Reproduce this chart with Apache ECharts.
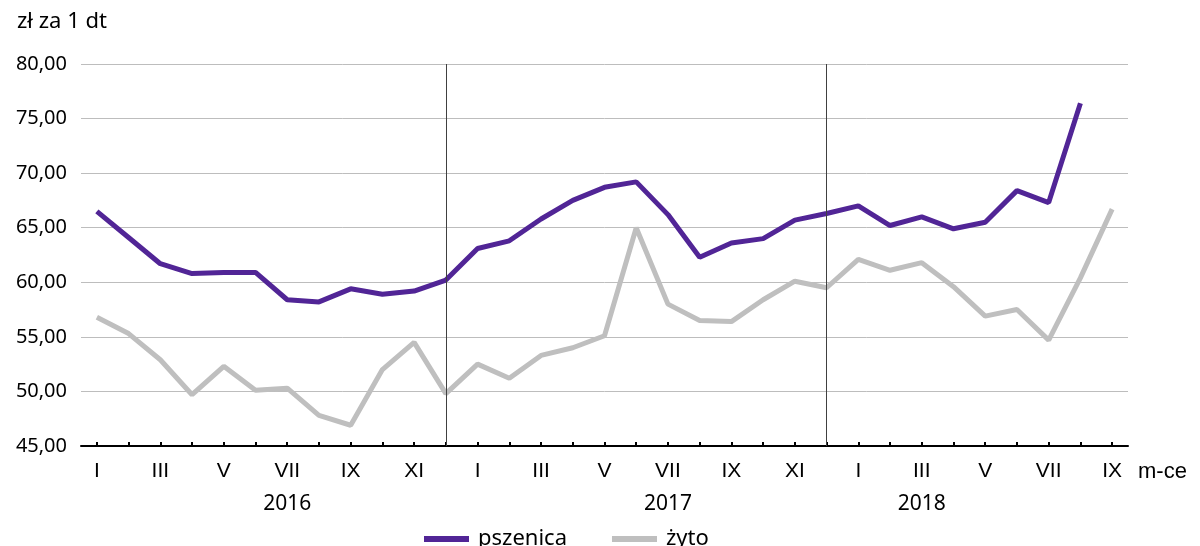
<!DOCTYPE html>
<html>
<head>
<meta charset="utf-8">
<script src="https://cdn.jsdelivr.net/npm/echarts@6/dist/echarts.min.js"></script>
<style>
html,body{margin:0;padding:0;background:#fff;}
#chart{width:1200px;height:546px;}
</style>
</head>
<body>
<div id="chart"></div>
<script>
// Data
const months = [
  'I','II','III','IV','V','VI','VII','VIII','IX','X','XI','XII',
  'I','II','III','IV','V','VI','VII','VIII','IX','X','XI','XII',
  'I','II','III','IV','V','VI','VII','VIII','IX'
];
const yearLabels = [
  '','','','','','','2016','','','','','',
  '','','','','','','2017','','','','','',
  '','','2018','','','','','',''
];
const pszenica = [
  66.5, 64.1, 61.7, 60.8, 60.9, 60.9, 58.4, 58.2, 59.4, 58.9, 59.2, 60.2,
  63.1, 63.8, 65.8, 67.5, 68.7, 69.2, 66.2, 62.3, 63.6, 64.0, 65.7, 66.3,
  67.0, 65.2, 66.0, 64.9, 65.5, 68.4, 67.3, 76.4, null
];
const zyto = [
  56.8, 55.3, 52.9, 49.7, 52.3, 50.1, 50.3, 47.8, 46.9, 52.0, 54.5, 49.8,
  52.5, 51.2, 53.3, 54.0, 55.1, 65.0, 58.0, 56.5, 56.4, 58.4, 60.1, 59.5,
  62.1, 61.1, 61.8, 59.6, 56.9, 57.5, 54.7, 60.4, 66.7
];
const yearSeparators = [11, 23];

const chart = echarts.init(document.getElementById('chart'), null, {renderer: 'canvas'});
const option = {
  animation: false,
  backgroundColor: '#ffffff',
  title: {
    text: 'zł za 1 dt',
    left: 12,
    top: 6,
    textStyle: {fontFamily: 'Noto Sans', fontSize: 22, fontWeight: 'normal', color: '#000'}
  },
  legend: {
    left: 419,
    top: 523,
    icon: 'rect',
    itemWidth: 45,
    itemHeight: 6,
    itemGap: 45,
    textStyle: {fontFamily: 'Noto Sans', fontSize: 22, color: '#000', padding: [0, 0, 0, 4]},
    data: ['pszenica', 'żyto']
  },
  grid: {left: 81, right: 72, top: 64, bottom: 100, containLabel: false},
  xAxis: [
    {
      type: 'category',
      data: months,
      boundaryGap: true,
      position: 'bottom',
      name: 'm-ce',
      nameLocation: 'end',
      nameGap: 10,
      nameTextStyle: {fontFamily: 'Liberation Sans', fontSize: 22, color: '#000', verticalAlign: 'top', padding: [15, 0, 0, 0]},
      axisLine: {show: true, lineStyle: {color: '#000', width: 2}},
      axisTick: {show: true, inside: true, length: 4, interval: 0, alignWithLabel: true, lineStyle: {color: '#000', width: 2}},
      axisLabel: {interval: 1, margin: 15, fontFamily: 'Liberation Sans', fontSize: 21, color: '#000'},
      splitLine: {show: false}
    },
    {
      type: 'category',
      data: yearLabels,
      boundaryGap: true,
      position: 'bottom',
      axisLine: {show: false},
      axisTick: {show: false},
      axisLabel: {interval: 0, margin: 48, fontFamily: 'Noto Sans', fontSize: 21, color: '#000'},
      splitLine: {show: false}
    }
  ],
  yAxis: {
    type: 'value',
    min: 45,
    max: 80,
    interval: 5,
    axisLine: {show: false},
    axisTick: {show: false},
    axisLabel: {
      margin: 14,
      fontFamily: 'Noto Sans',
      fontSize: 20,
      color: '#000',
      formatter: v => v.toFixed(2).replace('.', ',')
    },
    splitLine: {show: true, lineStyle: {color: '#bdbdbd', width: 1}}
  },
  series: [
    {
      name: 'pszenica',
      type: 'line',
      data: pszenica,
      symbol: 'none',
      color: '#512596',
      lineStyle: {width: 5, color: '#512596'},
      z: 3
    },
    {
      name: 'żyto',
      type: 'line',
      data: zyto,
      symbol: 'none',
      color: '#bfbfbf',
      lineStyle: {width: 5, color: '#bfbfbf'},
      z: 2,
      markLine: {
        silent: true,
        symbol: 'none',
        label: {show: false},
        lineStyle: {color: '#404040', width: 1, type: 'solid'},
        data: yearSeparators.map(i => ({xAxis: i}))
      }
    }
  ]
};
chart.setOption(option);
</script>
</body>
</html>
